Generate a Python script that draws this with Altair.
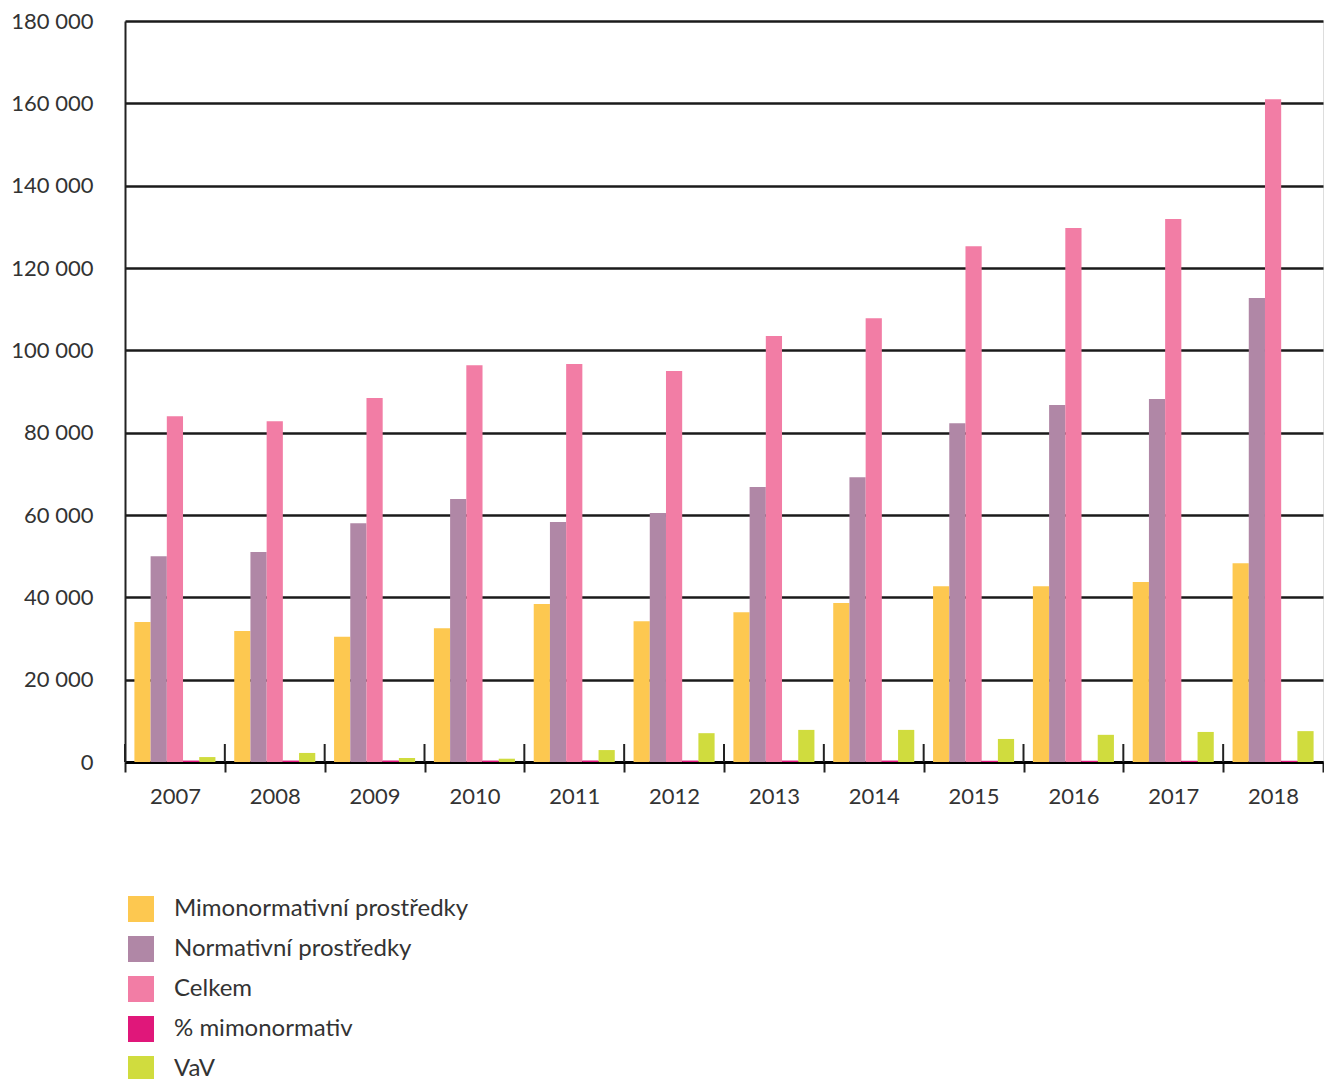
import altair as alt
import pandas as pd

years = ["2007", "2008", "2009", "2010", "2011", "2012", "2013", "2014", "2015", "2016", "2017", "2018"]
series = ["Mimonormativní prostředky", "Normativní prostředky", "Celkem", "% mimonormativ", "VaV"]
colors = ["#FDC850", "#B087A6", "#F27DA5", "#E0177A", "#D0DC3E"]

mimo = [34000, 31800, 30400, 32500, 38400, 34200, 36400, 38600, 42700, 42700, 43700, 48300]
norm = [50000, 51000, 58000, 63900, 58300, 60500, 66800, 69200, 82300, 86700, 88200, 112700]
celkem = [84000, 82800, 88400, 96400, 96700, 95000, 103500, 107800, 125300, 129700, 131900, 161000]
pct = [350, 350, 350, 350, 350, 350, 350, 350, 300, 300, 300, 300]
vav = [1200, 2200, 1000, 800, 2900, 7000, 7800, 7800, 5600, 6600, 7300, 7500]

y_ticks = [0, 20000, 40000, 60000, 80000, 100000, 120000, 140000, 160000, 180000]

rows = []
for vals, name in zip([mimo, norm, celkem, pct, vav], series):
    for yr, v in zip(years, vals):
        rows.append({"year": yr, "series": name, "value": v})
df = pd.DataFrame(rows)
ticks_df = pd.DataFrame({"year": years})

W, H = 1198, 741
FONT = "Lato"

bars = alt.Chart(df).mark_bar().encode(
    x=alt.X("year:N", sort=years, title=None,
            scale=alt.Scale(paddingInner=0, paddingOuter=0),
            axis=alt.Axis(labelAngle=0, labelFontSize=22, labelColor="#333333", labelFont=FONT,
                          domainColor="black", domainWidth=3, tickColor="#222222", tickWidth=2,
                          tickSize=10, tickBand="extent", labelPadding=14)),
    xOffset=alt.XOffset("series:N", sort=series,
                        scale=alt.Scale(paddingInner=0, paddingOuter=0.58)),
    y=alt.Y("value:Q", title=None,
            scale=alt.Scale(domain=[0, 180000], nice=False),
            axis=alt.Axis(values=y_ticks, labelFontSize=22, labelColor="#333333", labelFont=FONT,
                          labelExpr="replace(format(datum.value, ','), ',', ' ')",
                          tickSize=0, labelPadding=32, domainColor="#222222", domainWidth=2,
                          gridColor="#1a1a1a", gridWidth=2.5)),
    color=alt.Color("series:N", sort=series,
                    scale=alt.Scale(domain=series, range=colors),
                    legend=alt.Legend(title=None, orient="none", legendX=3, legendY=875,
                                      symbolType="square", symbolSize=676, symbolStrokeWidth=0,
                                      labelFontSize=24, labelColor="#333333", labelFont=FONT,
                                      labelOffset=20, rowPadding=14, symbolOpacity=1,
                                      labelLimit=500)),
)

up_ticks = alt.Chart(ticks_df).mark_rule(color="#222222", strokeWidth=2).encode(
    x=alt.X("year:N", sort=years, bandPosition=0),
    y=alt.value(H - 18),
    y2=alt.value(H),
)

chart = alt.layer(bars, up_ticks).properties(
    width=W, height=H,
    padding={"left": 2, "top": 2, "right": 0, "bottom": 0},
).configure_view(stroke=None).configure(background="white")

chart.save("out.html", embed_options={"renderer": "svg", "actions": False})
